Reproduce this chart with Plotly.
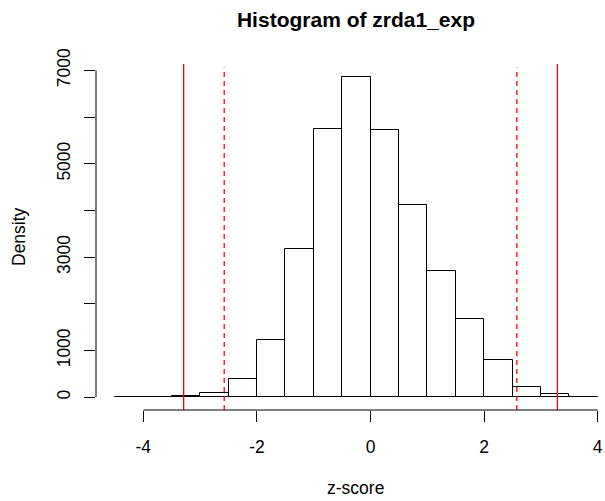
import plotly.graph_objects as go

# Histogram data (bin edges every 0.5 from -4.5 to 4.0)
bin_left = [-4.5, -4.0, -3.5, -3.0, -2.5, -2.0, -1.5, -1.0, -0.5, 0.0, 0.5, 1.0, 1.5, 2.0, 2.5, 3.0, 3.5]
bin_width = 0.5
density = [2, 4, 15, 100, 400, 1230, 3180, 5740, 6860, 5720, 4110, 2700, 1670, 790, 210, 60, 8]

# reference lines
solid_lines = [-3.29, 3.29]
dashed_lines = [-2.576, 2.576]

x_ticks = [-4, -2, 0, 2, 4]
x_tick_text = ["-4", "-2", "0", "2", "4"]
y_ticks = [0, 1000, 2000, 3000, 4000, 5000, 6000, 7000]
y_tick_text = ["0", "1000", "", "3000", "", "5000", "", "7000"]

FONT = "Liberation Sans, Arial, Helvetica, sans-serif"

centers = [b + bin_width / 2 for b in bin_left]

fig = go.Figure()
fig.add_trace(go.Bar(
    x=centers, y=density, width=[bin_width] * len(centers),
    marker=dict(color="white", line=dict(color="black", width=1)),
    showlegend=False, hoverinfo="x+y",
))

shapes = []
for v in solid_lines:
    shapes.append(dict(type="line", xref="x", yref="paper", x0=v, x1=v, y0=0, y1=1,
                       line=dict(color="#ff0000", width=1.3), layer="above"))
for v in dashed_lines:
    shapes.append(dict(type="line", xref="x", yref="paper", x0=v, x1=v, y0=0, y1=0.99,
                       line=dict(color="#ff0000", width=1.3, dash="5px,4px"), layer="above"))
# R-style axis lines spanning only the tick range
shapes.append(dict(type="line", xref="x", yref="paper", x0=x_ticks[0], x1=x_ticks[-1], y0=0, y1=0,
                   line=dict(color="black", width=1)))
shapes.append(dict(type="line", xref="paper", yref="y", x0=0, x1=0, y0=y_ticks[0], y1=y_ticks[-1],
                   line=dict(color="black", width=1)))

fig.update_layout(
    width=605, height=501,
    margin=dict(l=96, r=0, t=64, b=91),
    paper_bgcolor="white", plot_bgcolor="white",
    bargap=0,
    font=dict(family=FONT, size=17.5, color="black"),
    title=dict(text="<b>Histogram of zrda1_exp</b>", x=(96 + 616) / 2 / 605, xanchor="center",
               y=1 - 20 / 501, yanchor="middle", yref="container",
               font=dict(family=FONT, size=21, color="black")),
    xaxis=dict(range=[-4.833, 4.128], showgrid=False, zeroline=False, showline=False,
               tickmode="array", tickvals=x_ticks, ticktext=x_tick_text,
               ticks="outside", ticklen=11, tickwidth=1, tickcolor="black",
               ticklabelstandoff=10),
    yaxis=dict(range=[-274.5, 7137.5], showgrid=False, zeroline=False, showline=False,
               tickmode="array", tickvals=y_ticks, ticktext=y_tick_text,
               ticks="outside", ticklen=11, tickwidth=1, tickcolor="black",
               tickangle=-90, ticklabelstandoff=7),
    shapes=shapes,
    annotations=[
        dict(text="z-score", xref="paper", yref="paper", x=(355 - 96) / 509, y=0,
             yshift=-78, xanchor="center", yanchor="middle", showarrow=False,
             font=dict(family=FONT, size=17.5)),
        dict(text="Density", xref="paper", yref="paper", x=0, y=0.5, xshift=-77,
             xanchor="center", yanchor="middle", textangle=-90, showarrow=False,
             font=dict(family=FONT, size=17.5)),
    ],
)

fig.write_html("out.html")
